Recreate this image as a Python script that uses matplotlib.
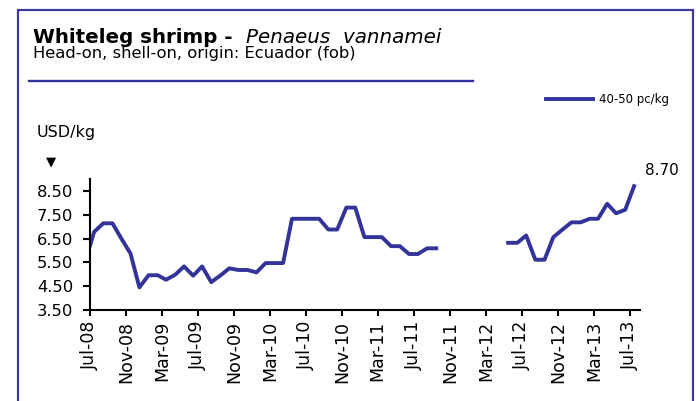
import numpy as np
import pandas as pd
import matplotlib
matplotlib.use("Agg")
import matplotlib.pyplot as plt
import matplotlib.dates as mdates
from matplotlib.patches import Rectangle
from matplotlib.lines import Line2D
from matplotlib.ticker import FormatStrFormatter

# prices quoted mid-month, Jul-08 .. Jul-13 (nan = no quote)
months = pd.date_range("2008-07-01", "2013-07-01", freq="MS") + pd.Timedelta(days=14)
prices = [
    6.78, 7.14, 7.14, 6.50, 5.87, 4.45,          # Jul-08 .. Dec-08
    4.96, 4.96, 4.77, 4.98, 5.33, 4.94,          # Jan-09 .. Jun-09
    5.33, 4.67, 4.95, 5.25, 5.18, 5.18,          # Jul-09 .. Dec-09
    5.08, 5.47, 5.47, 5.47, 7.33, 7.33,          # Jan-10 .. Jun-10
    7.33, 7.33, 6.88, 6.88, 7.80, 7.80,          # Jul-10 .. Dec-10
    6.56, 6.56, 6.56, 6.18, 6.18, 5.85,          # Jan-11 .. Jun-11
    5.85, 6.09, 6.09, np.nan, np.nan, np.nan,    # Jul-11 .. Dec-11
    np.nan, np.nan, np.nan, np.nan, 6.32, 6.32,  # Jan-12 .. Jun-12
    6.63, 5.61, 5.61, 6.56, 6.88, 7.18,          # Jul-12 .. Dec-12
    7.18, 7.33, 7.33, 7.96, 7.56, 7.71,          # Jan-13 .. Jun-13
    8.70,                                        # Jul-13
]
# first quote at the start of the series
start_date = pd.Timestamp("2008-07-01")
start_price = 6.20

dates = [start_date] + list(months)
values = [start_price] + prices

series_label = "40-50 pc/kg"
title_bold = "Whiteleg shrimp -  "
title_italic = "Penaeus  vannamei"
subtitle = "Head-on, shell-on, origin: Ecuador (fob)"
y_unit = "USD/kg"
y_ticks = [3.5, 4.5, 5.5, 6.5, 7.5, 8.5]

navy = "#333399"
W, H = 696, 401

plt.rcParams["font.family"] = ["DejaVu Sans"]
fig = plt.figure(figsize=(W / 100, H / 100), dpi=100)

# outer frame + title rule
fig.patches.append(Rectangle((18 / W, -0.05), (693 - 18) / W, 1.05 - 10 / H,
                             transform=fig.transFigure, fill=False,
                             edgecolor="#3c3ca0", linewidth=1.6))
fig.lines.append(Line2D([29 / W, 473 / W], [1 - 81 / H, 1 - 81 / H],
                        transform=fig.transFigure, color=navy, linewidth=1.7))

t1 = fig.text(33 / W, 1 - 42.7 / H, title_bold, fontsize=14.3, fontweight="bold",
              va="baseline", ha="left")
fig.canvas.draw()
bb = t1.get_window_extent()
fig.text(bb.x1 / W, 1 - 42.7 / H, title_italic, fontsize=14.3, fontstyle="italic",
         va="baseline", ha="left")
fig.text(33 / W, 1 - 58 / H, subtitle, fontsize=11.8, va="baseline", ha="left")

fig.text(37 / W, 1 - 136.7 / H, y_unit, fontsize=11.5, va="baseline", ha="left")
fig.text(51 / W, 1 - 162 / H, "\u25BC", fontsize=9.5, va="center", ha="center")

ax = fig.add_axes([90 / W, 1 - 310 / H, (640 - 90) / W, (310 - 179) / H])
ax.plot(dates, values, color=navy, linewidth=2.8, label=series_label)

ax.set_xlim(pd.Timestamp("2008-07-01"), pd.Timestamp("2013-08-04"))
ax.set_ylim(3.5, 9.0)
ax.set_yticks(y_ticks)
ax.yaxis.set_major_formatter(FormatStrFormatter("%.2f"))
ax.xaxis.set_major_locator(mdates.MonthLocator(bymonth=(3, 7, 11)))
ax.xaxis.set_major_formatter(mdates.DateFormatter("%b-%y"))
for lab in ax.get_xticklabels():
    lab.set_rotation(90)

for side in ("top", "right"):
    ax.spines[side].set_visible(False)
for side in ("left", "bottom"):
    ax.spines[side].set_linewidth(1.5)
ax.tick_params(axis="y", length=5, width=1.5, pad=7, labelsize=11.8)
ax.tick_params(axis="x", length=4.3, width=1.5, pad=3.4, labelsize=12.5)

ax.annotate(f"{prices[-1]:.2f}", xy=(months[-1], prices[-1]), xytext=(20, 11.5),
            textcoords="offset points", ha="center", va="center", fontsize=11)

fig.legend(loc="center left", bbox_to_anchor=(546 / W, 1 - 100 / H), frameon=False,
           fontsize=8.5, handlelength=4.0, handletextpad=0.45, borderpad=0,
           borderaxespad=0)

fig.savefig("out.png", dpi=100)
